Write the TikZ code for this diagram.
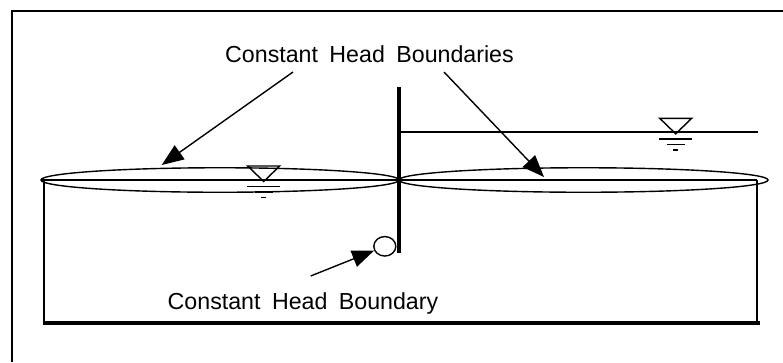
\documentclass[tikz,border=0pt]{standalone}
\usepackage{fontspec}
\setmainfont{Liberation Sans}
\usetikzlibrary{arrows.meta, shapes.geometric}
\begin{document}
\begin{tikzpicture}[
        x=1pt, y=-1pt,
        framebox/.style={draw, line width=1.8pt},
        waterline/.style={draw, line width=1.4pt},
        lens/.style={draw, ellipse, line width=1.4pt, inner sep=0pt, minimum height=24.5pt},
        pointer/.style={draw, line width=1.4pt, -{Triangle[length=22pt,width=17pt]}},
        label/.style={font=\fontsize{23.2}{25}\selectfont, inner sep=0pt, anchor=base}
    ]
    \useasboundingbox (0,0) rectangle (783,362);
    \draw[framebox] (12,362) -- (12,11) -- (783,11);

    % aquifer
    \draw[line width=1.5pt] (44,180) -- (44,323);
    \draw[line width=1.5pt] (757,180) -- (757,323);
    \draw[line width=3.5pt] (43,323) -- (760,323);
    \draw[waterline] (41,180) -- (757,180);
    \draw[waterline] (399,132) -- (758,132);

    % barrier and boundaries
    \coordinate (walltop) at (398.7,87);
    \coordinate (wallbot) at (398.7,253);
    \draw[line width=3.6pt] (walltop) -- (wallbot);
    \node[lens, minimum width=358pt] (lensleft) at (220,180) {};
    \node[lens, minimum width=369pt] (lensright) at (583.5,180) {};
    \node[draw, ellipse, line width=1.4pt, fill=white, minimum width=22pt, minimum height=19.5pt, inner sep=0pt] (well) at (384.8,246.3) {};

    % water table symbols
    \foreach \px/\py in {263.7/166, 675.7/118.3} {
        \draw[line width=1.4pt] (\px-16,\py) -- (\px+16,\py) -- (\px,\py+15.5) -- cycle;
        \draw[line width=1.4pt] (\px-16.5,\py+20.5) -- (\px+16.5,\py+20.5);
        \draw[line width=1.4pt] (\px-9,\py+26) -- (\px+9,\py+26);
        \draw[line width=1.4pt] (\px-2.5,\py+31.5) -- (\px+2.5,\py+31.5);
    }

    % labels
    \node[label] (toplabel) at (369.5,62.5) {Constant\hspace{5pt} Head\hspace{5pt} Boundaries};
    \node[label] (botlabel) at (303,309) {Constant\hspace{5pt} Head\hspace{5pt} Boundary};
    \coordinate (tailleft) at (293,72);
    \coordinate (tipleft) at (161.7,165);
    \coordinate (tailright) at (444,72);
    \coordinate (tipright) at (544,177);
    \coordinate (tailwell) at (310.7,276);
    \draw[pointer] (tailleft) -- (tipleft);
    \draw[pointer] (tailright) -- (tipright);
    \draw[pointer] (tailwell) -- (well);
\end{tikzpicture}
\end{document}
